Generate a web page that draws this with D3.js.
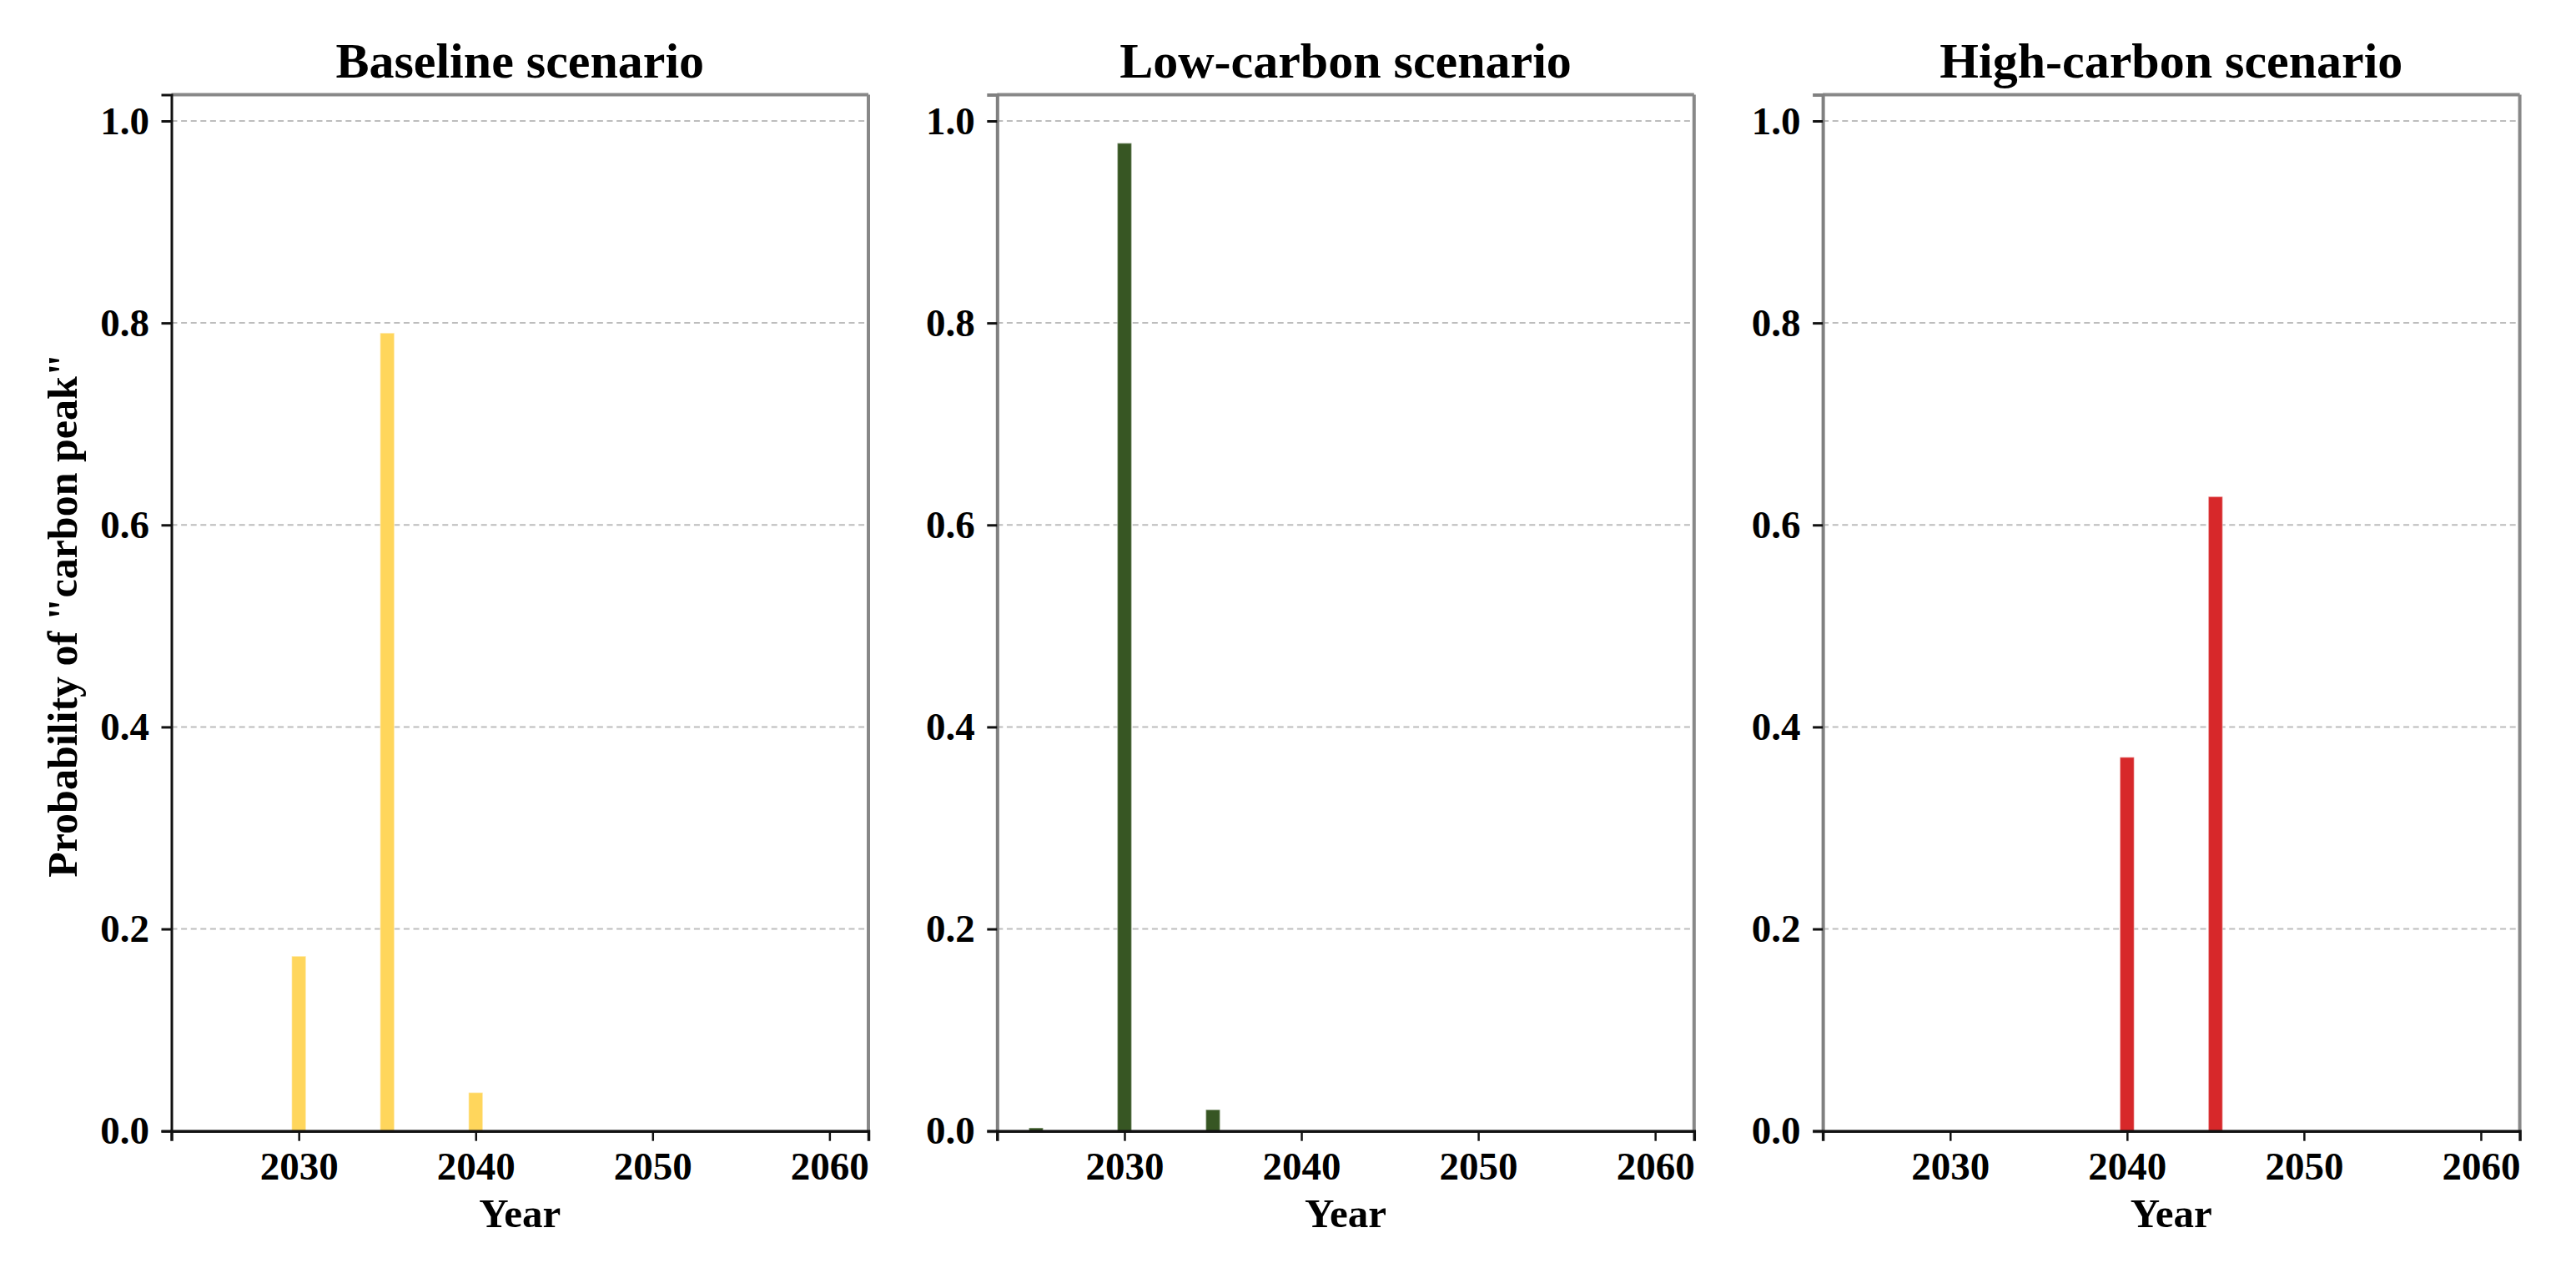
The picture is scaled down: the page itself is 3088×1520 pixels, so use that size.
<!DOCTYPE html>
<html>
<head>
<meta charset="utf-8">
<script src="https://cdn.jsdelivr.net/npm/d3@7"></script>
<style>
  html, body { margin: 0; padding: 0; background: #ffffff; }
  svg { display: block; }
  text { font-family: "Liberation Serif", "Times New Roman", serif; font-weight: bold; fill: #000; }
</style>
</head>
<body>
<svg id="chart" width="3088" height="1520"></svg>
<script>
// ---- data ----
const years = [2025, 2030, 2035, 2040, 2045, 2050, 2055, 2060];
const baselineValues   = [0.000, 0.173, 0.790, 0.038, 0.000, 0.000, 0.000, 0.000];
const lowCarbonValues  = [0.003, 0.978, 0.021, 0.000, 0.000, 0.000, 0.000, 0.000];
const highCarbonValues = [0.000, 0.000, 0.000, 0.370, 0.628, 0.000, 0.000, 0.000];
const panelTitles = ["Baseline scenario", "Low-carbon scenario", "High-carbon scenario"];
const panelColors = ["#FFD65C", "#375623", "#D7282A"];
const xTickValues = [2030, 2040, 2050, 2060];
const yTickValues = [0.0, 0.2, 0.4, 0.6, 0.8, 1.0];
const xLabel = "Year";
const yLabel = "Probability of \"carbon peak\"";

const series = [baselineValues, lowCarbonValues, highCarbonValues];

// ---- layout ----
const svg = d3.select("#chart");
const panelLeft0 = 205.5, panelStep = 989.8, panelW = 835.5;
const plotTop = 113.5, plotBottom = 1355.7;
const barWidthYears = 0.8;

const y = d3.scaleLinear().domain([0, 1.026]).range([plotBottom, plotTop]);

series.forEach((vals, i) => {
  const left = panelLeft0 + i * panelStep;
  const x = d3.scaleLinear().domain([2022.8, 2062.2]).range([left, left + panelW]);
  const g = svg.append("g");

  // grid
  g.selectAll("line.grid").data(yTickValues.filter(v => v > 0)).enter()
    .append("line").attr("class", "grid")
    .attr("x1", left).attr("x2", left + panelW)
    .attr("y1", d => y(d)).attr("y2", d => y(d))
    .attr("stroke", "#bdbdbd").attr("stroke-width", 2)
    .attr("stroke-dasharray", "7,4.6");

  // bars
  const bw = x(2030 + barWidthYears / 2) - x(2030 - barWidthYears / 2);
  g.selectAll("rect.bar").data(years.map((yr, k) => ({ yr, v: vals[k] })).filter(d => d.v > 0))
    .enter().append("rect").attr("class", "bar")
    .attr("x", d => x(d.yr) - bw / 2)
    .attr("width", bw)
    .attr("y", d => y(d.v))
    .attr("height", d => y(0) - y(d.v))
    .attr("fill", panelColors[i])
    .attr("stroke", "#ffffff").attr("stroke-opacity", 0.35).attr("stroke-width", 1.5);

  // top & right spines (gray)
  g.append("line").attr("x1", left).attr("x2", left + panelW).attr("y1", plotTop).attr("y2", plotTop)
    .attr("stroke", "#888").attr("stroke-width", 4);
  g.append("line").attr("x1", left + panelW).attr("x2", left + panelW).attr("y1", plotTop).attr("y2", plotBottom)
    .attr("stroke", "#888").attr("stroke-width", 4);

  // y axis
  const yAxis = d3.axisLeft(y).tickValues(yTickValues).tickFormat(d3.format(".1f"))
    .tickSize(12).tickPadding(14.5);
  const ya = g.append("g").attr("transform", `translate(${left},0)`).call(yAxis);
  ya.select(".domain").attr("stroke", i === 0 ? "#111" : "#808080").attr("stroke-width", i === 0 ? 3 : 4);
  ya.selectAll(".tick line").attr("stroke", "#111").attr("stroke-width", 3);
  ya.selectAll(".tick text").attr("font-size", 47).attr("font-family", "Liberation Serif").attr("font-weight", "bold").attr("fill", "#000");

  // x axis
  const xAxis = d3.axisBottom(x).tickValues(xTickValues).tickFormat(d3.format("d"))
    .tickSize(12).tickPadding(13);
  const xa = g.append("g").attr("transform", `translate(0,${plotBottom})`).call(xAxis);
  xa.select(".domain").attr("stroke", "#111").attr("stroke-width", 3.5);
  xa.selectAll(".tick line").attr("stroke", "#111").attr("stroke-width", 2.5);
  xa.selectAll(".tick text").attr("font-size", 47).attr("font-family", "Liberation Serif").attr("font-weight", "bold").attr("fill", "#000");

  // title
  g.append("text").attr("x", left + panelW / 2).attr("y", 92.5)
    .attr("text-anchor", "middle").attr("font-size", 60).text(panelTitles[i]);

  // x label
  g.append("text").attr("x", left + panelW / 2).attr("y", 1470.5)
    .attr("text-anchor", "middle").attr("font-size", 49).text(xLabel);
});

// y label
svg.append("text")
  .attr("transform", `translate(92,${(plotTop + plotBottom) / 2 + 3}) rotate(-90)`)
  .attr("text-anchor", "middle").attr("font-size", 50).text(yLabel);
</script>
</body>
</html>
